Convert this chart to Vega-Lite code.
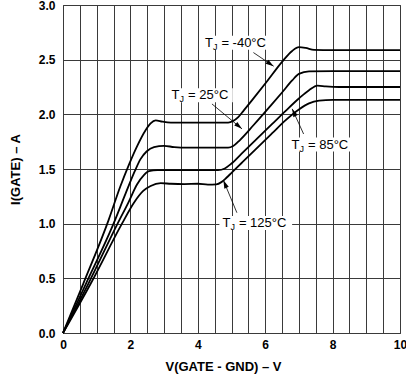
{
  "$schema": "https://vega.github.io/schema/vega-lite/v6.json",
  "width": 337,
  "height": 328,
  "autosize": {"type": "none"},
  "padding": {"left": 63, "top": 5, "right": 6, "bottom": 49},
  "background": "white",
  "config": {
    "view": {"stroke": "#333333", "strokeWidth": 1},
    "font": "Liberation Sans"
  },
  "datasets": {
    "curves": [
      {"temp": "-40", "x": 0, "y": 0}, {"temp": "-40", "x": 0.6, "y": 0.45}, {"temp": "-40", "x": 1.35, "y": 1.03}, {"temp": "-40", "x": 1.7, "y": 1.34}, {"temp": "-40", "x": 1.97, "y": 1.55}, {"temp": "-40", "x": 2.2, "y": 1.71}, {"temp": "-40", "x": 2.45, "y": 1.855}, {"temp": "-40", "x": 2.6, "y": 1.918}, {"temp": "-40", "x": 2.75, "y": 1.945}, {"temp": "-40", "x": 2.95, "y": 1.933}, {"temp": "-40", "x": 3.2, "y": 1.925}, {"temp": "-40", "x": 4.0, "y": 1.925}, {"temp": "-40", "x": 4.9, "y": 1.925}, {"temp": "-40", "x": 5.05, "y": 1.94}, {"temp": "-40", "x": 5.2, "y": 1.975}, {"temp": "-40", "x": 5.35, "y": 2.03}, {"temp": "-40", "x": 5.6, "y": 2.125}, {"temp": "-40", "x": 6.05, "y": 2.3}, {"temp": "-40", "x": 6.5, "y": 2.48}, {"temp": "-40", "x": 6.8, "y": 2.58}, {"temp": "-40", "x": 7.0, "y": 2.615}, {"temp": "-40", "x": 7.2, "y": 2.608}, {"temp": "-40", "x": 7.45, "y": 2.59}, {"temp": "-40", "x": 8.0, "y": 2.588}, {"temp": "-40", "x": 10, "y": 2.588},
      {"temp": "25", "x": 0, "y": 0}, {"temp": "25", "x": 0.68, "y": 0.45}, {"temp": "25", "x": 1.5, "y": 1.0}, {"temp": "25", "x": 1.85, "y": 1.27}, {"temp": "25", "x": 2.13, "y": 1.48}, {"temp": "25", "x": 2.3, "y": 1.59}, {"temp": "25", "x": 2.48, "y": 1.66}, {"temp": "25", "x": 2.7, "y": 1.7}, {"temp": "25", "x": 3.0, "y": 1.712}, {"temp": "25", "x": 3.3, "y": 1.7}, {"temp": "25", "x": 3.7, "y": 1.695}, {"temp": "25", "x": 4.9, "y": 1.695}, {"temp": "25", "x": 5.05, "y": 1.71}, {"temp": "25", "x": 5.25, "y": 1.765}, {"temp": "25", "x": 5.65, "y": 1.9}, {"temp": "25", "x": 6.15, "y": 2.075}, {"temp": "25", "x": 6.5, "y": 2.2}, {"temp": "25", "x": 6.8, "y": 2.31}, {"temp": "25", "x": 7.0, "y": 2.37}, {"temp": "25", "x": 7.3, "y": 2.393}, {"temp": "25", "x": 8.0, "y": 2.395}, {"temp": "25", "x": 10, "y": 2.395},
      {"temp": "85", "x": 0, "y": 0}, {"temp": "85", "x": 0.75, "y": 0.45}, {"temp": "85", "x": 1.62, "y": 1.0}, {"temp": "85", "x": 1.95, "y": 1.2}, {"temp": "85", "x": 2.2, "y": 1.36}, {"temp": "85", "x": 2.4, "y": 1.445}, {"temp": "85", "x": 2.55, "y": 1.48}, {"temp": "85", "x": 2.8, "y": 1.49}, {"temp": "85", "x": 4.6, "y": 1.49}, {"temp": "85", "x": 4.8, "y": 1.505}, {"temp": "85", "x": 5.0, "y": 1.55}, {"temp": "85", "x": 5.3, "y": 1.64}, {"temp": "85", "x": 5.7, "y": 1.76}, {"temp": "85", "x": 6.2, "y": 1.91}, {"temp": "85", "x": 6.6, "y": 2.03}, {"temp": "85", "x": 7.0, "y": 2.145}, {"temp": "85", "x": 7.3, "y": 2.22}, {"temp": "85", "x": 7.55, "y": 2.262}, {"temp": "85", "x": 7.8, "y": 2.255}, {"temp": "85", "x": 8.2, "y": 2.25}, {"temp": "85", "x": 10, "y": 2.25},
      {"temp": "125", "x": 0, "y": 0}, {"temp": "125", "x": 0.82, "y": 0.45}, {"temp": "125", "x": 1.75, "y": 1.0}, {"temp": "125", "x": 2.1, "y": 1.19}, {"temp": "125", "x": 2.38, "y": 1.3}, {"temp": "125", "x": 2.6, "y": 1.345}, {"temp": "125", "x": 2.9, "y": 1.37}, {"temp": "125", "x": 3.2, "y": 1.365}, {"temp": "125", "x": 3.6, "y": 1.362}, {"temp": "125", "x": 4.0, "y": 1.365}, {"temp": "125", "x": 4.3, "y": 1.357}, {"temp": "125", "x": 4.55, "y": 1.36}, {"temp": "125", "x": 4.7, "y": 1.38}, {"temp": "125", "x": 4.85, "y": 1.42}, {"temp": "125", "x": 5.0, "y": 1.465}, {"temp": "125", "x": 5.3, "y": 1.555}, {"temp": "125", "x": 5.7, "y": 1.675}, {"temp": "125", "x": 6.2, "y": 1.825}, {"temp": "125", "x": 6.6, "y": 1.945}, {"temp": "125", "x": 7.0, "y": 2.045}, {"temp": "125", "x": 7.3, "y": 2.1}, {"temp": "125", "x": 7.6, "y": 2.125}, {"temp": "125", "x": 8.0, "y": 2.133}, {"temp": "125", "x": 10, "y": 2.133}
    ],
    "labels": [
      {"temp": "-40", "x": 4.21, "y": 2.655, "xEnd": 6.08, "rest": "= -40°C"},
      {"temp": "25", "x": 3.22, "y": 2.174, "xEnd": 4.95, "rest": "= 25°C"},
      {"temp": "85", "x": 6.78, "y": 1.724, "xEnd": 8.61, "rest": "= 85°C"},
      {"temp": "125", "x": 4.73, "y": 1.005, "xEnd": 6.71, "rest": "= 125°C"}
    ],
    "arrows": [
      {"temp": "-40", "x": 6.25, "y": 2.44, "xFrom": 5.65, "yFrom": 2.565},
      {"temp": "25", "x": 5.31, "y": 1.867, "xFrom": 4.42, "yFrom": 2.095},
      {"temp": "85", "x": 6.8, "y": 2.05, "xFrom": 7.14, "yFrom": 1.82},
      {"temp": "125", "x": 4.76, "y": 1.396, "xFrom": 5.16, "yFrom": 1.1}
    ]
  },
  "encoding": {
    "x": {
      "field": "x", "type": "quantitative",
      "scale": {"domain": [0, 10], "nice": false, "zero": false},
      "axis": {
        "title": "V(GATE - GND) – V",
        "values": [0, 0.5, 1, 1.5, 2, 2.5, 3, 3.5, 4, 4.5, 5, 5.5, 6, 6.5, 7, 7.5, 8, 8.5, 9, 9.5, 10],
        "labelExpr": "datum.value % 2 === 0 ? format(datum.value, 'd') : ''",
        "labelOverlap": false, "labelFlush": false,
        "grid": true, "gridColor": "#3a3a3a", "gridWidth": 1,
        "ticks": false, "domain": false,
        "labelFont": "Liberation Sans", "labelFontSize": 12, "labelFontWeight": "bold", "labelColor": "#000000", "labelPadding": 6,
        "titleFont": "Liberation Sans", "titleFontSize": 13, "titleFontWeight": "bold", "titleColor": "#000000", "titlePadding": 10, "titleX": 160
      }
    },
    "y": {
      "field": "y", "type": "quantitative",
      "scale": {"domain": [0, 3], "nice": false, "zero": false},
      "axis": {
        "title": "I(GATE) – A",
        "values": [0, 0.5, 1, 1.5, 2, 2.5, 3],
        "format": ".1f",
        "labelOverlap": false, "labelFlush": false,
        "grid": true, "gridColor": "#3a3a3a", "gridWidth": 1,
        "ticks": false, "domain": false,
        "labelFont": "Liberation Sans", "labelFontSize": 12, "labelFontWeight": "bold", "labelColor": "#000000", "labelPadding": 8,
        "titleFont": "Liberation Sans", "titleFontSize": 13, "titleFontWeight": "bold", "titleColor": "#000000", "titlePadding": 16
      }
    }
  },
  "layer": [
    {
      "data": {"name": "labels"},
      "mark": {"type": "rect", "fill": "white", "yOffset": -7, "y2Offset": 7, "xOffset": -3, "x2Offset": 3},
      "encoding": {"x2": {"field": "xEnd"}, "y2": {"field": "y"}}
    },
    {
      "data": {"name": "curves"},
      "mark": {"type": "line", "interpolate": "monotone", "color": "#000000", "strokeWidth": 1.8},
      "encoding": {"detail": {"field": "temp", "type": "nominal"}}
    },
    {
      "data": {"name": "arrows"},
      "mark": {"type": "rule", "color": "#000000", "strokeWidth": 0.8},
      "encoding": {"x2": {"field": "xFrom"}, "y2": {"field": "yFrom"}}
    },
    {
      "data": {"name": "arrows"},
      "transform": [{"filter": "datum.temp === '-40'"}],
      "mark": {"type": "point", "shape": "M0,0L0.6,2L-0.6,2Z", "size": 64, "filled": true, "color": "#000000", "opacity": 1, "angle": 124}
    },
    {
      "data": {"name": "arrows"},
      "transform": [{"filter": "datum.temp === '25'"}],
      "mark": {"type": "point", "shape": "M0,0L0.6,2L-0.6,2Z", "size": 64, "filled": true, "color": "#000000", "opacity": 1, "angle": 130}
    },
    {
      "data": {"name": "arrows"},
      "transform": [{"filter": "datum.temp === '85'"}],
      "mark": {"type": "point", "shape": "M0,0L0.6,2L-0.6,2Z", "size": 64, "filled": true, "color": "#000000", "opacity": 1, "angle": 335}
    },
    {
      "data": {"name": "arrows"},
      "transform": [{"filter": "datum.temp === '125'"}],
      "mark": {"type": "point", "shape": "M0,0L0.6,2L-0.6,2Z", "size": 64, "filled": true, "color": "#000000", "opacity": 1, "angle": 337}
    },
    {
      "data": {"name": "labels"},
      "mark": {"type": "text", "text": "T", "align": "left", "baseline": "middle", "font": "Liberation Sans", "fontSize": 13, "color": "#000000"}
    },
    {
      "data": {"name": "labels"},
      "mark": {"type": "text", "text": "J", "align": "left", "baseline": "middle", "font": "Liberation Sans", "fontSize": 9, "dx": 8, "dy": 4, "color": "#000000"}
    },
    {
      "data": {"name": "labels"},
      "mark": {"type": "text", "align": "left", "baseline": "middle", "font": "Liberation Sans", "fontSize": 13, "dx": 16.5, "color": "#000000"},
      "encoding": {"text": {"field": "rest"}}
    }
  ]
}
